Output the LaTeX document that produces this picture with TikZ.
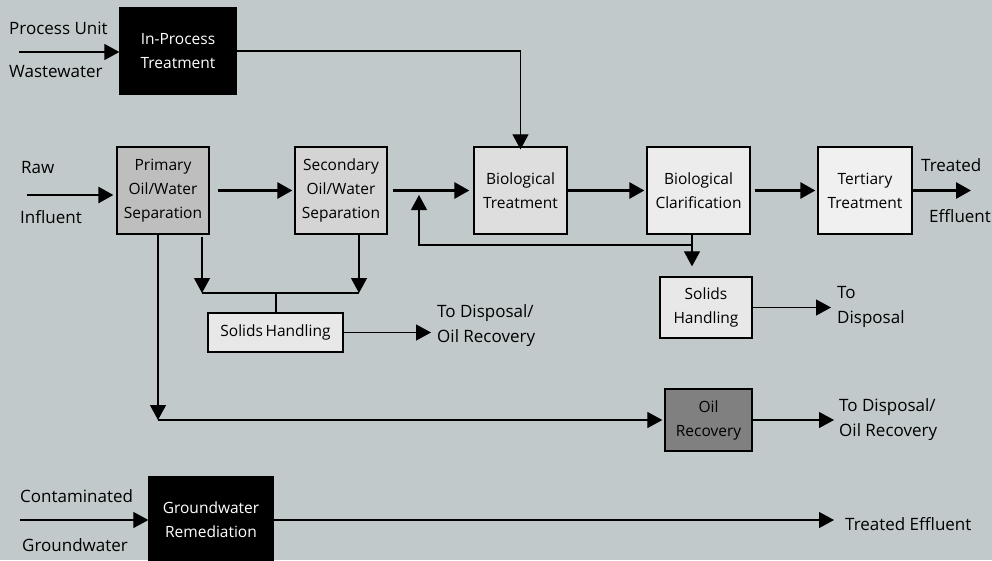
\documentclass[tikz,border=0pt]{standalone}
\usepackage{fontspec}
\setmainfont{Open Sans}
\usetikzlibrary{arrows.meta}
\definecolor{bg}{RGB}{193,201,203}
\definecolor{fprim}{RGB}{190,190,190}
\definecolor{fsec}{RGB}{212,212,212}
\definecolor{fbiot}{RGB}{222,222,222}
\definecolor{fbioc}{RGB}{236,236,236}
\definecolor{ftert}{RGB}{240,240,240}
\definecolor{fsol}{RGB}{232,232,232}
\definecolor{foil}{RGB}{128,128,128}
\begin{document}
\begin{tikzpicture}[x=1pt,y=-1pt,
  font=\fontsize{16}{24}\selectfont,
  box/.style={draw=black, line width=1.3pt, align=center, inner sep=0pt, font=\fontsize{15.5}{24}\selectfont},
  dark/.style={box, fill=black, text=white},
  lbl/.style={anchor=west, align=left, inner sep=0pt, font=\fontsize{17}{25}\selectfont},
  thinarr/.style={line width=1.2pt, -{Triangle[length=15pt,width=16pt]}},
  thickarr/.style={line width=2.8pt, -{Triangle[length=15pt,width=16pt]}},
  thinline/.style={line width=1.2pt}]
\fill[bg] (0,0) rectangle (992,560);
\useasboundingbox (0,0) rectangle (992,560);

% boxes
\node[dark, minimum width=116pt, minimum height=86pt] (inproc) at (178,51) {In-Process\\Treatment};
\node[box, fill=fprim, minimum width=92pt, minimum height=87pt] (prim) at (163,190.5) {Primary\\Oil/Water\\Separation};
\node[box, fill=fsec, minimum width=92pt, minimum height=87pt] (sec) at (341,190.5) {Secondary\\Oil/Water\\Separation};
\node[box, fill=fbiot, minimum width=93pt, minimum height=87pt] (biot) at (520.5,190.5) {Biological\\Treatment};
\node[box, fill=fbioc, minimum width=103pt, minimum height=87pt] (bioc) at (698.5,190.5) {Biological\\Clarification};
\node[box, fill=ftert, minimum width=94pt, minimum height=87pt] (tert) at (865,190.5) {Tertiary\\Treatment};
\node[box, fill=fsol, minimum width=135pt, minimum height=39pt] (sh1) at (275.5,332.5) {Solids\,Handling};
\node[box, fill=fsol, minimum width=92pt, minimum height=61pt] (sh2) at (706,307.5) {Solids\\Handling};
\node[box, fill=foil, minimum width=87pt, minimum height=62pt] (oilr) at (708.5,420) {Oil\\Recovery};
\node[dark, minimum width=124pt, minimum height=86pt] (gw) at (211,520) {Groundwater\\Remediation};

% labels
\node[lbl] (pu) at (9,28) {Process Unit};
\node[lbl] (ww) at (9,72) {Wastewater};
\node[lbl] (raw) at (21,168) {Raw};
\node[lbl] (inf) at (20,217) {Influent};
\node[lbl] (tr) at (921,165) {Treated};
\node[lbl] (ef) at (929,216) {Effluent};
\node[lbl] (td1) at (437,325.5) {To Disposal/\\Oil Recovery};
\node[lbl] (td2) at (837,307) {To\\Disposal};
\node[lbl] (td3) at (839,420) {To Disposal/\\Oil Recovery};
\node[lbl] (cont) at (20,496) {Contaminated};
\node[lbl] (gwl) at (22,545) {Groundwater};
\node[lbl] (te) at (845,524) {Treated Effluent};

% coordinates
\coordinate (c_pu) at (19,52);
\coordinate (c_raw) at (27,195);
\coordinate (c_eff) at (971,190.5);
\coordinate (r1) at (692,245);
\coordinate (r2) at (419,245);
\coordinate (r3) at (419,195);
\coordinate (pd) at (158,420);
\coordinate (a1) at (202,293);
\coordinate (a2) at (359,293);
\coordinate (st) at (276,293);
\coordinate (c_td1) at (431,332.5);
\coordinate (c_td2) at (831,307.5);
\coordinate (c_td3) at (834,420);
\coordinate (c_cont) at (20,520);
\coordinate (c_te) at (834,520);

% connectors
\draw[thinarr] (c_pu) -- (c_pu -| inproc.west);
\draw[thinarr] (inproc.east) -| ([yshift=-3pt]biot.north);
\draw[thickarr, shorten >=3pt] (c_raw) -- (c_raw -| prim.west);
\draw[thickarr, shorten <=8pt, shorten >=2pt] (prim.east) -- (sec.west);
\draw[thickarr, shorten <=5pt, shorten >=4pt] (sec.east) -- (biot.west);
\draw[thickarr, shorten >=2pt] (biot.east) -- (bioc.west);
\draw[thickarr, shorten <=4pt, shorten >=2pt] (bioc.east) -- (tert.west);
\draw[thickarr] (tert.east) -- (c_eff);
\draw[thinarr] (r1 |- bioc.south) -- (r1) -- (r2) -- (r3);
\draw[thinarr, shorten >=10pt] (r1) -- (r1 |- sh2.north);
\draw[thinarr] (sh2.east) -- (c_td2);
\draw[thinarr] (pd |- prim.south) -- (pd);
\draw[thinarr, shorten >=2pt] (pd) -- (pd -| oilr.west);
\draw[thinarr] (oilr.east) -- (c_td3);
\draw[thinarr, shorten <=2pt] (a1 |- prim.south) -- (a1);
\draw[thinarr] (a2 |- sec.south) -- (a2);
\draw[thinline] (a1) -- (a2);
\draw[thinline] (st) -- (st |- sh1.north);
\draw[thinarr] (sh1.east) -- (c_td1);
\draw[thinarr] (c_cont) -- (c_cont -| gw.west);
\draw[thinarr] (gw.east) -- (c_te);
\end{tikzpicture}
\end{document}
